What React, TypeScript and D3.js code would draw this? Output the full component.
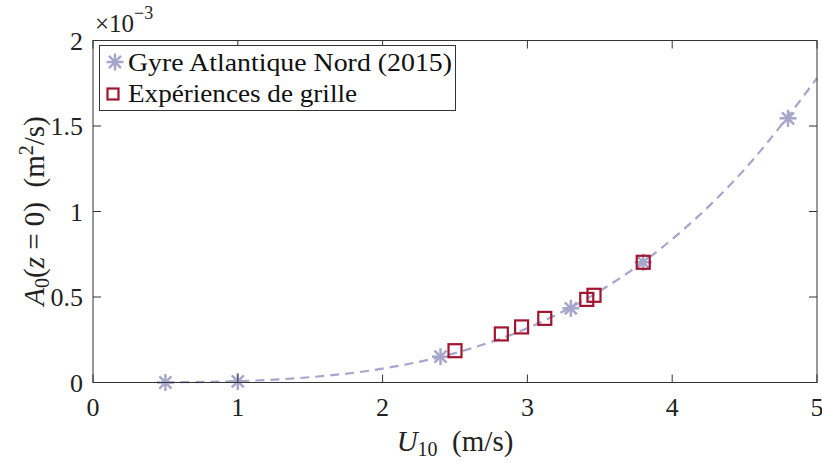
import { useEffect, useRef } from "react";
import * as d3 from "d3";

// Gyre Atlantique Nord (2015) — asterisks
const gyreU = [0.5, 1.0, 2.4, 3.3, 3.8, 4.8];
const gyreA = [0.0, 0.006, 0.151, 0.434, 0.703, 1.545]; // ×1e-3

// Expériences de grille — squares
const grilleU = [2.5, 2.82, 2.96, 3.12, 3.41, 3.46, 3.8];
const grilleA = [0.186, 0.284, 0.325, 0.375, 0.486, 0.51, 0.703];

// dashed fit curve
const fitU = [0.5, 1.0, 1.5, 2.0, 2.5, 3.0, 3.5, 4.0, 4.5, 5.0];
const fitA = [0.001, 0.008, 0.031, 0.081, 0.172, 0.318, 0.535, 0.838, 1.247, 1.78];

const xTicks = [0, 1, 2, 3, 4, 5];
const yTicks = [0, 0.5, 1, 1.5, 2];
const yTickLabels = ["0", "0.5", "1", "1.5", "2"];

const W = 822;
const H = 464;
const LAV = "#a6a6cc";
const RED = "#a2142f";
const AX = "#333333";
const FONT = "'Liberation Serif', 'DejaVu Serif', serif";

export default function App() {
  const svgRef = useRef<SVGSVGElement | null>(null);

  useEffect(() => {
    document.body.style.margin = "0";
    if (!svgRef.current) return;
    const svg = d3.select(svgRef.current);
    svg.selectAll("*").remove();

    const left = 93, right = 817, top = 40.5, bottom = 382.5;
    const x = d3.scaleLinear().domain([0, 5]).range([left, right]);
    const y = d3.scaleLinear().domain([0, 2]).range([bottom, top]);

    // fit line
    const fit = fitU.map((u, i) => [u, fitA[i]] as [number, number]);
    const line = d3
      .line<[number, number]>()
      .x((d) => x(d[0]))
      .y((d) => y(d[1]))
      .curve(d3.curveMonotoneX);
    svg
      .append("path")
      .attr("d", line(fit))
      .attr("fill", "none")
      .attr("stroke", LAV)
      .attr("stroke-width", 2.2)
      .attr("stroke-dasharray", "9,6");

    const asterisk = (g: any, cx: number, cy: number, r: number) => {
      for (let k = 0; k < 4; k++) {
        const a = (k * Math.PI) / 4;
        g.append("line")
          .attr("x1", cx - r * Math.cos(a))
          .attr("y1", cy - r * Math.sin(a))
          .attr("x2", cx + r * Math.cos(a))
          .attr("y2", cy + r * Math.sin(a))
          .attr("stroke", LAV)
          .attr("stroke-width", 2.5);
      }
    };
    const square = (g: any, cx: number, cy: number, s: number) => {
      g.append("rect")
        .attr("x", cx - s / 2)
        .attr("y", cy - s / 2)
        .attr("width", s)
        .attr("height", s)
        .attr("fill", "none")
        .attr("stroke", RED)
        .attr("stroke-width", 2.2);
    };

    const marks = svg.append("g");
    gyreU.forEach((u, i) => asterisk(marks, x(u), y(gyreA[i]), 8.5));
    grilleU.forEach((u, i) => square(marks, x(u), y(grilleA[i]), 13));

    // axes box
    const ax = svg.append("g").attr("stroke", AX).attr("stroke-width", 1).attr("fill", "none");
    ax.append("rect")
      .attr("x", left)
      .attr("y", top)
      .attr("width", right - left)
      .attr("height", bottom - top);
    const tl = 8;
    xTicks.forEach((t) => {
      ax.append("line").attr("x1", x(t)).attr("x2", x(t)).attr("y1", bottom).attr("y2", bottom - tl);
      ax.append("line").attr("x1", x(t)).attr("x2", x(t)).attr("y1", top).attr("y2", top + tl);
    });
    yTicks.forEach((t) => {
      ax.append("line").attr("x1", left).attr("x2", left + tl).attr("y1", y(t)).attr("y2", y(t));
      ax.append("line").attr("x1", right).attr("x2", right - tl).attr("y1", y(t)).attr("y2", y(t));
    });

    // tick labels
    const txt = svg.append("g").attr("font-family", FONT).attr("fill", "#222");
    xTicks.forEach((t) => {
      txt.append("text")
        .attr("x", x(t))
        .attr("y", 416)
        .attr("text-anchor", "middle")
        .attr("font-size", 26)
        .text(String(t));
    });
    yTicks.forEach((t, i) => {
      txt.append("text")
        .attr("x", 83)
        .attr("y", y(t) + 9)
        .attr("text-anchor", "end")
        .attr("font-size", 26)
        .text(yTickLabels[i]);
    });

    // exponent
    const ex = txt.append("text").attr("x", 95).attr("y", 32).attr("font-size", 25);
    ex.append("tspan").text("×10");
    ex.append("tspan").attr("dy", -13).attr("font-size", 18).text("−3");

    // x label
    const xl = txt
      .append("text")
      .attr("x", 455)
      .attr("y", 451)
      .attr("text-anchor", "middle")
      .attr("font-size", 29);
    xl.append("tspan").attr("font-style", "italic").text("U");
    xl.append("tspan").attr("font-size", 20).attr("dy", 5).text("10");
    xl.append("tspan").attr("dy", -5).text("\u2002(m/s)");

    // y label
    const yl = txt
      .append("text")
      .attr("transform", "translate(44,211) rotate(-90)")
      .attr("text-anchor", "middle")
      .attr("font-size", 29);
    yl.append("tspan").attr("font-style", "italic").text("A");
    yl.append("tspan").attr("font-size", 20).attr("dy", 5).text("0");
    yl.append("tspan").attr("dy", -5).text("(");
    yl.append("tspan").attr("font-style", "italic").text("z");
    yl.append("tspan").text(" = 0)\u2002(m");
    yl.append("tspan").attr("font-size", 20).attr("dy", -11).text("2");
    yl.append("tspan").attr("dy", 11).text("/s)");

    // legend
    const lg = svg.append("g");
    lg.append("rect")
      .attr("x", 99.5)
      .attr("y", 45.5)
      .attr("width", 356)
      .attr("height", 65)
      .attr("fill", "white")
      .attr("stroke", AX)
      .attr("stroke-width", 1);
    asterisk(lg, 115, 62, 8.5);
    square(lg, 113, 94, 11);
    lg.append("text")
      .attr("x", 128)
      .attr("y", 71)
      .attr("font-family", FONT)
      .attr("font-size", 26)
      .attr("fill", "#111")
      .attr("textLength", 324)
      .attr("lengthAdjust", "spacingAndGlyphs")
      .text("Gyre Atlantique Nord (2015)");
    lg.append("text")
      .attr("x", 128)
      .attr("y", 102)
      .attr("font-family", FONT)
      .attr("font-size", 26)
      .attr("fill", "#111")
      .attr("textLength", 229)
      .attr("lengthAdjust", "spacingAndGlyphs")
      .text("Expériences de grille");
  }, []);

  return <svg ref={svgRef} width={W} height={H} style={{ display: "block", background: "white" }} />;
}
